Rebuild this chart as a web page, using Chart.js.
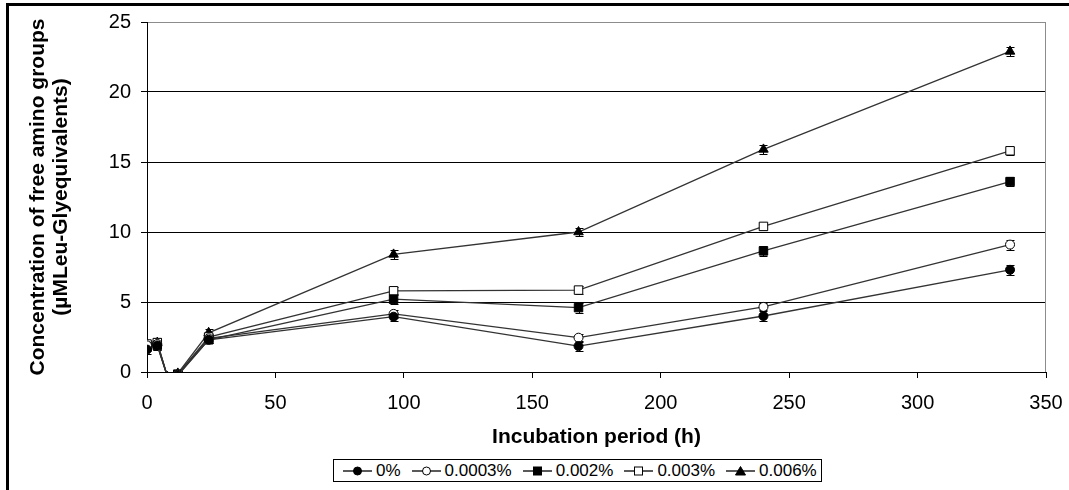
<!DOCTYPE html>
<html lang="en">
<head>
<meta charset="UTF-8">
<title>Free amino groups during incubation</title>
<script src="https://cdn.jsdelivr.net/npm/chart.js"></script>
<style>
  html, body { margin: 0; width: 1069px; height: 490px; overflow: hidden; background: #fff; }
  .frame { position: absolute; left: 6px; top: 3px; right: 0; bottom: 0; border-top: 3px solid #000; border-left: 3px solid #000; }
  .chart-container { position: absolute; left: 0; top: 0; width: 1069px; height: 490px; }
  #legend {
    position: absolute; left: 333px; top: 459px; width: 489px; height: 23px;
    box-sizing: border-box; border: 1px solid #000; background: #fff;
    display: flex; align-items: center; padding-left: 9px;
    font: 17px "Liberation Sans", Arial, sans-serif; color: #000;
  }
  #legend .item { display: flex; align-items: center; margin-right: 11px; }
  #legend svg { margin-right: 4px; }
</style>
</head>
<body>
<div class="frame"></div>
<div class="chart-container">
  <canvas id="chart"></canvas>
</div>
<div id="legend"></div>

<script>
// sampling times (h)
const hours = [0, 4, 8, 12, 24, 96, 168, 240, 336];

// mean concentration per treatment (µM Leu-Gly equivalents)
const conc0     = [1.6, 1.9, -0.35, -0.25, 2.3, 3.95, 1.85, 4.0, 7.3];
const conc00003 = [1.9, 2.0, -0.35, -0.20, 2.4, 4.15, 2.45, 4.65, 9.1];
const conc0002  = [1.8, 1.9, -0.35, -0.20, 2.3, 5.2, 4.6, 8.65, 13.6];
const conc0003  = [2.0, 2.1, -0.35, -0.15, 2.5, 5.8, 5.85, 10.4, 15.8];
const conc0006  = [1.9, 2.1, -0.35, -0.10, 2.8, 8.4, 10.0, 15.9, 22.9];

// standard deviations
const err0     = [0.3, 0.3, 0.2, 0.2, 0.25, 0.3, 0.35, 0.35, 0.35];
const err00003 = [0.3, 0.3, 0.2, 0.2, 0.25, 0.3, 0.3, 0.25, 0.35];
const err0002  = [0.3, 0.3, 0.2, 0.2, 0.25, 0.35, 0.35, 0.35, 0.3];
const err0003  = [0.3, 0.3, 0.2, 0.2, 0.25, 0.3, 0.3, 0.25, 0.3];
const err0006  = [0.3, 0.3, 0.2, 0.2, 0.3, 0.35, 0.3, 0.3, 0.3];

const seriesLabels = ['0%', '0.0003%', '0.002%', '0.003%', '0.006%'];

const xTicks = [0, 50, 100, 150, 200, 250, 300, 350];
const yTicks = [0, 5, 10, 15, 20, 25];

const font = "'Liberation Sans', Arial, sans-serif";

function series(label, values, errors, style, fill, radius) {
  return {
    label,
    data: hours.map((h, i) => ({ x: h, y: values[i] })),
    errors,
    borderColor: '#333',
    borderWidth: 1.3,
    pointStyle: style,
    pointRadius: radius,
    pointHoverRadius: radius,
    pointBackgroundColor: fill,
    pointBorderColor: '#000',
    pointBorderWidth: 1,
    tension: 0,
    clip: 0
  };
}

const datasets = [
  series(seriesLabels[0], conc0, err0, 'circle', '#000', 4.5),
  series(seriesLabels[1], conc00003, err00003, 'circle', '#fff', 4.5),
  series(seriesLabels[2], conc0002, err0002, 'rect', '#000', 6),
  series(seriesLabels[3], conc0003, err0003, 'rect', '#fff', 6),
  series(seriesLabels[4], conc0006, err0006, 'triangle', '#000', 5.5)
];

// vertical error bars with caps, drawn under the markers
const errorBars = {
  id: 'errorBars',
  beforeDatasetsDraw(chart) {
    const { ctx, chartArea: a, scales: { y } } = chart;
    ctx.save();
    ctx.beginPath();
    ctx.rect(a.left, a.top, a.right - a.left, a.bottom - a.top);
    ctx.clip();
    ctx.strokeStyle = '#000';
    ctx.lineWidth = 1;
    chart.data.datasets.forEach((ds, i) => {
      chart.getDatasetMeta(i).data.forEach((pt, j) => {
        const v = ds.data[j].y, e = ds.errors[j];
        const px = Math.round(pt.x) + 0.5;
        const top = Math.round(y.getPixelForValue(v + e)) + 0.5;
        const bot = Math.round(y.getPixelForValue(v - e)) + 0.5;
        ctx.beginPath();
        ctx.moveTo(px, top); ctx.lineTo(px, bot);
        ctx.moveTo(px - 4, top); ctx.lineTo(px + 4, top);
        ctx.moveTo(px - 4, bot); ctx.lineTo(px + 4, bot);
        ctx.stroke();
      });
    });
    ctx.restore();
  }
};

// grey right edge of the plot area
const plotEdge = {
  id: 'plotEdge',
  beforeDatasetsDraw(chart) {
    const { ctx, chartArea: a } = chart;
    ctx.save();
    ctx.strokeStyle = '#8c8c8c';
    ctx.lineWidth = 1;
    ctx.beginPath();
    ctx.moveTo(Math.round(a.right) - 0.5, a.top);
    ctx.lineTo(Math.round(a.right) - 0.5, a.bottom);
    ctx.stroke();
    ctx.restore();
  }
};

new Chart(document.getElementById('chart'), {
  type: 'line',
  data: { datasets },
  options: {
    responsive: true,
    maintainAspectRatio: false,
    animation: false,
    events: [],
    layout: { padding: { top: 22, right: 23, bottom: 40, left: 0 } },
    plugins: { legend: { display: false }, tooltip: { enabled: false } },
    scales: {
      x: {
        type: 'linear',
        min: 0, max: 350,
        afterBuildTicks: s => { s.ticks = xTicks.map(v => ({ value: v })); },
        afterFit: s => { s.height = 78; s.paddingLeft = 0; s.paddingRight = 0; },
        border: { color: '#000', width: 1 },
        grid: { drawOnChartArea: false, color: '#000', tickLength: 6 },
        ticks: { color: '#000', padding: 13, maxRotation: 0, font: { family: font, size: 20 } },
        title: {
          display: true,
          text: 'Incubation period (h)',
          color: '#000',
          padding: 0,
          font: { family: font, size: 21, weight: 'bold', lineHeight: 1.2 }
        }
      },
      y: {
        min: 0, max: 25,
        afterBuildTicks: s => { s.ticks = yTicks.map(v => ({ value: v })); },
        afterFit: s => { s.width = 147; },
        border: { color: '#000', width: 1 },
        grid: {
          color: c => c.tick && c.tick.value === 25 ? '#8c8c8c' : '#000',
          tickColor: '#000',
          tickLength: 6
        },
        ticks: { color: '#000', padding: 10, font: { family: font, size: 20 } },
        title: {
          display: true,
          text: ['Concentration of free amino groups', '(µMLeu-Glyequivalents)'],
          color: '#000',
          padding: { top: 27, bottom: 0 },
          font: { family: font, size: 21, weight: 'bold', lineHeight: 1.1 }
        }
      }
    }
  },
  plugins: [errorBars, plotEdge]
});

// legend: line through marker, then label
const legend = document.getElementById('legend');
datasets.forEach(ds => {
  const fill = ds.pointBackgroundColor;
  let marker;
  if (ds.pointStyle === 'circle') marker = `<circle cx="14.5" cy="6" r="4" fill="${fill}" stroke="#000"/>`;
  else if (ds.pointStyle === 'rect') marker = `<rect x="10.5" y="2" width="8" height="8" fill="${fill}" stroke="#000"/>`;
  else marker = `<polygon points="14.5,1.5 19.5,10 9.5,10" fill="${fill}" stroke="#000"/>`;
  const item = document.createElement('span');
  item.className = 'item';
  item.innerHTML = `<svg width="29" height="12"><line x1="0" y1="6" x2="29" y2="6" stroke="#000" stroke-width="1.3"/>${marker}</svg><span>${ds.label}</span>`;
  legend.appendChild(item);
});
</script>
</body>
</html>
